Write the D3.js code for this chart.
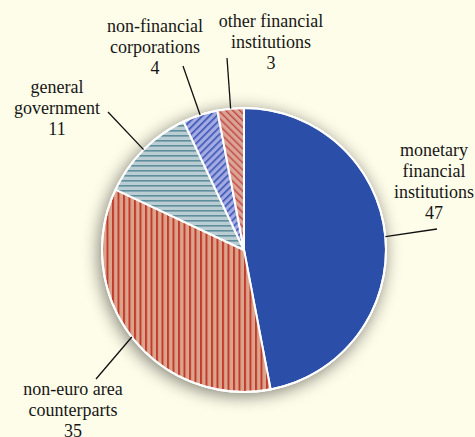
<!DOCTYPE html>
<html>
<head>
<meta charset="utf-8">
<script src="https://cdn.jsdelivr.net/npm/d3@7"></script>
<style>
  html, body { margin: 0; padding: 0; background: #fefde9; }
  svg { display: block; }
  .leader { stroke: #111; stroke-width: 1.3; fill: none; }
</style>
</head>
<body>
<div id="chart"></div>
<script>
// data (shares, %)
var categories = ["monetary financial institutions", "non-euro area counterparts", "general government", "non-financial corporations", "other financial institutions"];
var labelLines = [["monetary", "financial", "institutions"], ["non-euro area", "counterparts"], ["general", "government"], ["non-financial", "corporations"], ["other financial", "institutions"]];
var values = [47, 35, 11, 4, 3];

// layout: where each label block sits (centre x, first baseline y) and where its leader ends
var labelPos = [
  {x: 434, y: 156, lx: 437, ly: 229},
  {x: 73, y: 395, lx: 96, ly: 379},
  {x: 57, y: 93, lx: 108, ly: 112},
  {x: 155, y: 32, lx: 183, ly: 66},
  {x: 271, y: 27, lx: 227, ly: 58}
];

var width = 475, height = 437,
    cx = 244, cy = 250, radius = 142, lineH = 21;

var svg = d3.select("#chart").append("svg")
    .attr("width", width)
    .attr("height", height);

svg.append("rect").attr("width", width).attr("height", height).attr("fill", "#fefde9");

var defs = svg.append("defs");

var shadow = defs.append("filter").attr("id", "shadow")
    .attr("x", "-30%").attr("y", "-30%").attr("width", "160%").attr("height", "160%");
shadow.append("feGaussianBlur").attr("in", "SourceAlpha").attr("stdDeviation", 9).attr("result", "b");
shadow.append("feOffset").attr("in", "b").attr("dx", -2).attr("dy", 3).attr("result", "o");
shadow.append("feComponentTransfer").attr("in", "o")
  .append("feFuncA").attr("type", "linear").attr("slope", 0.55);

function stripes(id, bg, fg, w, sw, rot) {
  var p = defs.append("pattern").attr("id", id)
      .attr("patternUnits", "userSpaceOnUse")
      .attr("width", w).attr("height", w)
      .attr("patternTransform", "rotate(" + rot + ")");
  p.append("rect").attr("width", w).attr("height", w).attr("fill", bg);
  p.append("rect").attr("x", 0).attr("y", 0).attr("width", sw).attr("height", w).attr("fill", fg);
}
stripes("p-noneuro", "#dba48c", "#c23b2c", 5.5, 2, 0);
stripes("p-gov", "#b9cdd3", "#5f8f9c", 5, 1.6, 90);
stripes("p-nfc", "#a3abe2", "#3b55b4", 5, 1.6, 45);
stripes("p-ofi", "#dba594", "#c1444a", 5, 1.4, -45);

var fills = ["#2b4ea8", "url(#p-noneuro)", "url(#p-gov)", "url(#p-nfc)", "url(#p-ofi)"];

var pie = d3.pie().sort(null).value(function(d) { return d; });
var arcs = pie(values);
var arc = d3.arc().innerRadius(0).outerRadius(radius);

var g = svg.append("g").attr("transform", "translate(" + cx + "," + cy + ")");

g.append("circle").attr("r", radius).attr("fill", "#000").attr("filter", "url(#shadow)");

g.selectAll("path.slice")
  .data(arcs)
  .enter().append("path")
    .attr("class", "slice")
    .attr("d", arc)
    .attr("fill", function(d, i) { return fills[i]; })
    .attr("stroke", "#fff")
    .attr("stroke-width", 2)
    .attr("stroke-linejoin", "round");

g.append("circle").attr("r", radius).attr("fill", "none").attr("stroke", "#fff").attr("stroke-width", 2);

// leaders
arcs.forEach(function(d, i) {
  var a = (d.startAngle + d.endAngle) / 2;
  var x0 = cx + radius * Math.sin(a), y0 = cy - radius * Math.cos(a);
  svg.append("line").attr("class", "leader")
    .attr("x1", x0).attr("y1", y0)
    .attr("x2", labelPos[i].lx).attr("y2", labelPos[i].ly);
});

// labels, one text per line
labelLines.forEach(function(lines, i) {
  lines.concat([String(values[i])]).forEach(function(s, k) {
    svg.append("text")
      .attr("x", labelPos[i].x)
      .attr("y", labelPos[i].y + k * lineH)
      .attr("font-size", 18)
      .attr("fill", "#161616")
      .attr("text-anchor", "middle")
      .style("font-family", "'Liberation Serif'")
      .text(s);
  });
});
</script>
</body>
</html>
